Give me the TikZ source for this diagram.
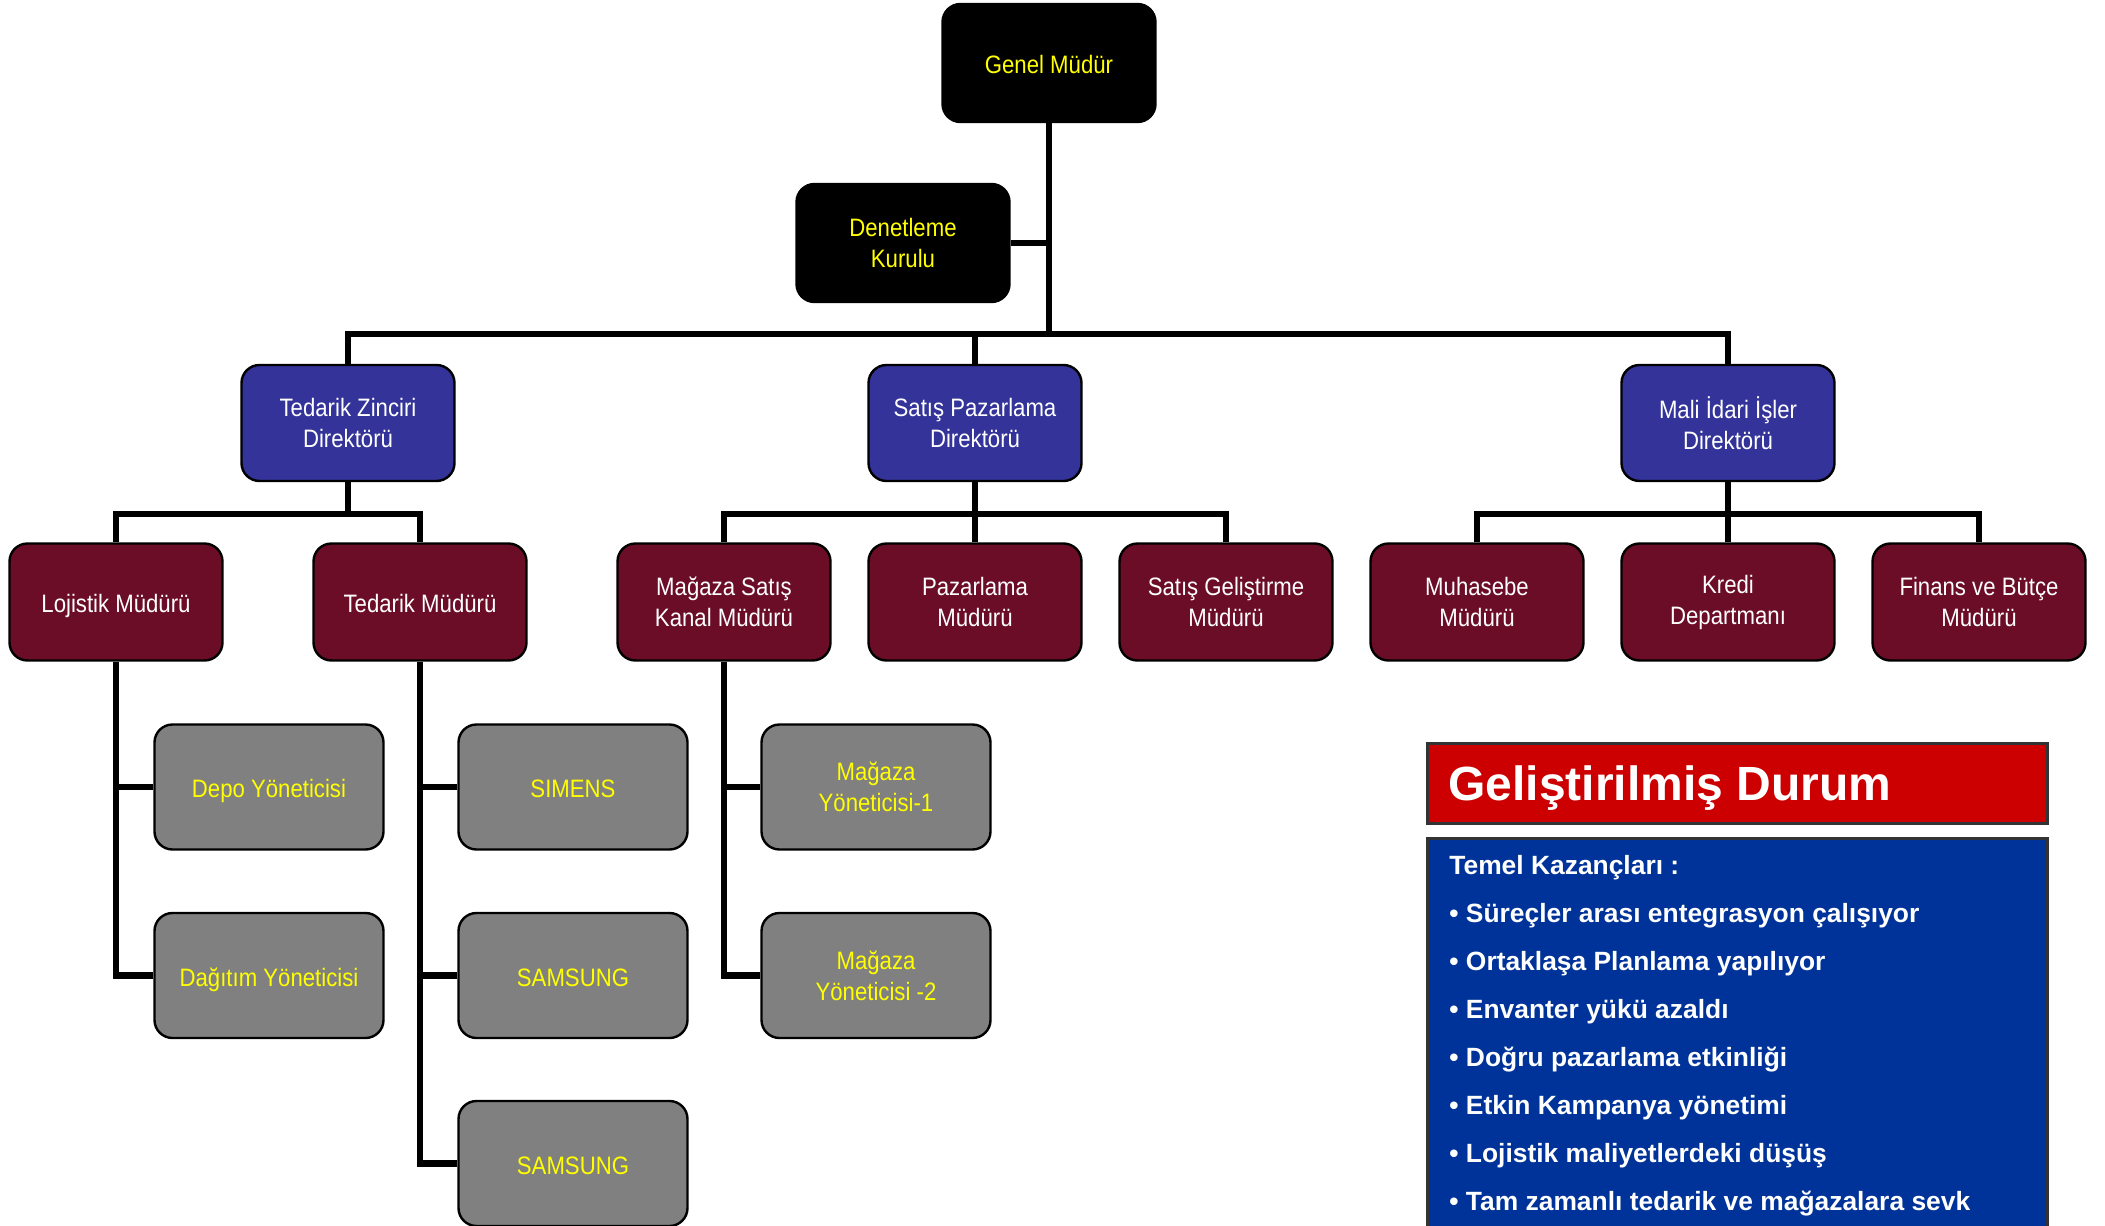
\documentclass[tikz,border=0pt]{standalone}
\usepackage{fontspec}
\setmainfont{Liberation Sans}
\newfontfamily\boxfont{Liberation Sans}[FakeStretch=0.88]
\definecolor{dirblue}{HTML}{333399}
\definecolor{mgrred}{HTML}{6B0D27}
\definecolor{unitgray}{HTML}{808080}
\definecolor{hiyellow}{HTML}{FFFF00}
\definecolor{titlered}{HTML}{CC0000}
\definecolor{panelblue}{HTML}{003399}
\definecolor{panelrim}{HTML}{333333}
\tikzset{
  orgbox/.style={draw=black, line width=1.2pt, rounded corners=9pt, align=center,
    inner sep=0pt, minimum width=106.5pt,
    font=\boxfont\fontsize{12.6}{15.5}\selectfont},
  topbox/.style={orgbox, fill=black, text=hiyellow, minimum height=59pt},
  dirbox/.style={orgbox, fill=dirblue, text=white, minimum height=58pt},
  mgrbox/.style={orgbox, fill=mgrred, text=white, minimum height=58.5pt},
  unitbox/.style={orgbox, fill=unitgray, text=hiyellow, minimum width=114.5pt, minimum height=62.5pt},
  oneline/.style={text height=12pt, text depth=1.5pt},
  conn/.style={draw=black, line width=3.3pt, line join=miter},
  listline/.style={anchor=base west, text=white, inner sep=0pt,
    font=\bfseries\fontsize{13.2}{15}\selectfont},
}
\begin{document}
\begin{tikzpicture}[x=0.5pt, y=-0.5pt]
\useasboundingbox (0,0) rectangle (2105,1226);
\begin{scope}
\clip (0,0) rectangle (2105,1226);

% bus levels
\coordinate (b1) at (1049,334);
\coordinate (b2) at (1049,514);

% boxes
\node[topbox, oneline] (gm) at (1049,63) {Genel Müdür};
\node[topbox] (den) at (903,243) {Denetleme\\Kurulu};

\node[dirbox] (tz) at (348,423) {Tedarik Zinciri\\Direktörü};
\node[dirbox] (sp) at (975,423) {Satış Pazarlama\\Direktörü};
\node[dirbox] (mi) at (1728,423) {Mali İdari İşler\\Direktörü};

\node[mgrbox, oneline] (loj) at (116,602) {Lojistik Müdürü};
\node[mgrbox, oneline] (ted) at (420,602) {Tedarik Müdürü};
\node[mgrbox] (mag) at (724,602) {Mağaza Satış\\Kanal Müdürü};
\node[mgrbox] (paz) at (975,602) {Pazarlama\\Müdürü};
\node[mgrbox] (sg) at (1226,602) {Satış Geliştirme\\Müdürü};
\node[mgrbox] (muh) at (1477,602) {Muhasebe\\Müdürü};
\node[mgrbox] (kre) at (1728,602) {Kredi\\Departmanı};
\node[mgrbox] (fin) at (1979,602) {Finans ve Bütçe\\Müdürü};

\node[unitbox, oneline] (depo) at (269,787) {Depo Yöneticisi};
\node[unitbox, oneline] (dag) at (269,975.5) {Dağıtım Yöneticisi};
\node[unitbox, oneline] (sim) at (573,787) {SIMENS};
\node[unitbox, oneline] (sam1) at (573,975.5) {SAMSUNG};
\node[unitbox, oneline] (sam2) at (573,1163.5) {SAMSUNG};
\node[unitbox] (my1) at (876,787) {Mağaza\\Yöneticisi-1};
\node[unitbox] (my2) at (876,975.5) {Mağaza\\Yöneticisi -2};

% connectors
\draw[conn] (gm.south) -- (b1);
\draw[conn] (den.east) -- (den.east -| gm.south);
\draw[conn] (tz.north) |- (b1) -| (mi.north);
\draw[conn] (sp.north) -- (sp.north |- b1);

\draw[conn] (loj.north) |- (tz.south |- b2) -| (ted.north);
\draw[conn] (tz.south) -- (tz.south |- b2);
\draw[conn] (mag.north) |- (sp.south |- b2) -| (sg.north);
\draw[conn] (sp.south) -- (paz.north);
\draw[conn] (muh.north) |- (mi.south |- b2) -| (fin.north);
\draw[conn] (mi.south) -- (kre.north);

\draw[conn] (loj.south) |- (dag.west);
\draw[conn] (loj.south |- depo.west) -- (depo.west);
\draw[conn] (ted.south) |- (sam2.west);
\draw[conn] (ted.south |- sim.west) -- (sim.west);
\draw[conn] (ted.south |- sam1.west) -- (sam1.west);
\draw[conn] (mag.south) |- (my2.west);
\draw[conn] (mag.south |- my1.west) -- (my1.west);

% summary panel
\draw[fill=titlered, draw=panelrim, line width=1.5pt] (1427,743) rectangle (2047,823);
\node[anchor=base west, text=white, inner sep=0pt,
  font=\bfseries\fontsize{24}{28}\selectfont] (title) at (1448,800) {Geliştirilmiş Durum};

\draw[fill=panelblue, draw=panelrim, line width=1.5pt] (1427,838) rectangle (2047,1250);
\node[listline] (l0) at (1449,874) {Temel Kazançları :};
\node[listline] (l1) at (1449,922) {• Süreçler arası entegrasyon çalışıyor};
\node[listline] (l2) at (1449,970) {• Ortaklaşa Planlama yapılıyor};
\node[listline] (l3) at (1449,1018) {• Envanter yükü azaldı};
\node[listline] (l4) at (1449,1066) {• Doğru pazarlama etkinliği};
\node[listline] (l5) at (1449,1114) {• Etkin Kampanya yönetimi};
\node[listline] (l6) at (1449,1162) {• Lojistik maliyetlerdeki düşüş};
\node[listline] (l7) at (1449,1210) {• Tam zamanlı tedarik ve mağazalara sevk};
\end{scope}
\end{tikzpicture}
\end{document}
